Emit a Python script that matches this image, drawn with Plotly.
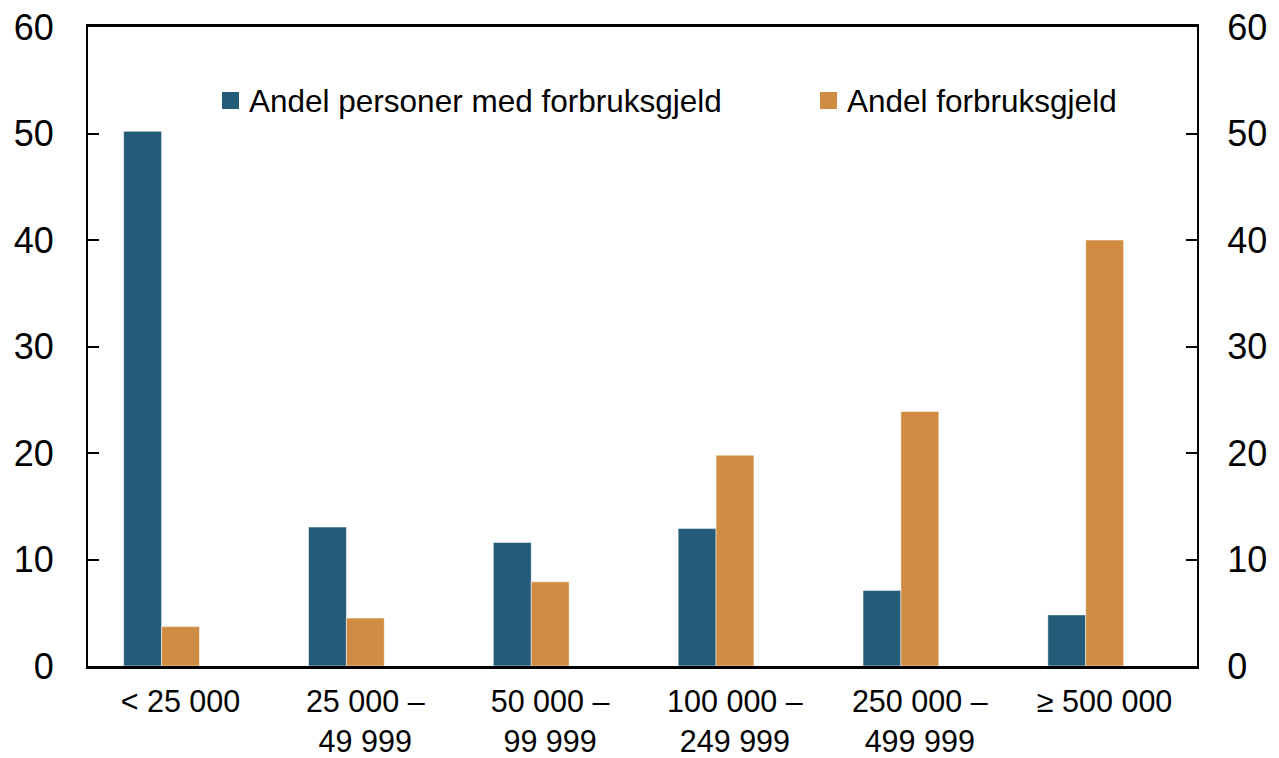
import plotly.graph_objects as go

categories = ["< 25 000", "25 000 –<br>49 999", "50 000 –<br>99 999",
              "100 000 –<br>249 999", "250 000 –<br>499 999", "≥ 500 000"]
series_names = ["Andel personer med forbruksgjeld", "Andel forbruksgjeld"]
andel_personer = [50.2, 13.05, 11.6, 12.9, 7.1, 4.8]
andel_gjeld = [3.7, 4.5, 7.9, 19.8, 23.9, 40.0]
y_ticks = [0, 10, 20, 30, 40, 50, 60]

BLUE = "#235b79"
ORANGE = "#cf8c42"
FONT = "Arial, Liberation Sans, sans-serif"

W, H = 1279, 758
L, R, T, B = 88, 82, 27, 92
pw, ph = W - L - R, H - T - B

fig = go.Figure()
bar_w = 0.205
fig.add_trace(go.Bar(x=categories, y=andel_personer, name=series_names[0],
                     marker=dict(color=BLUE, line=dict(color="rgba(255,255,255,0.5)", width=1)),
                     width=bar_w, offset=-0.307, showlegend=False))
fig.add_trace(go.Bar(x=categories, y=andel_gjeld, name=series_names[1],
                     marker=dict(color=ORANGE, line=dict(color="rgba(255,255,255,0.5)", width=1)),
                     width=bar_w, offset=-0.102, showlegend=False))
# invisible trace to anchor right axis
fig.add_trace(go.Scatter(x=categories, y=[None]*len(categories), yaxis="y2",
                         showlegend=False, hoverinfo="skip"))

axis_common = dict(range=[0, 60], tickvals=y_ticks, ticks="inside", ticklen=11,
                   tickwidth=1.5, tickcolor="black", showgrid=False, zeroline=False,
                   showline=True, linecolor="black", linewidth=2, automargin=False,
                   tickfont=dict(family=FONT, size=36, color="black"))

fig.update_layout(
    width=W, height=H,
    margin=dict(l=L, r=R, t=T, b=B, pad=0, autoexpand=False),
    paper_bgcolor="white", plot_bgcolor="white",
    font=dict(family=FONT, color="black"),
    barmode="group",
    xaxis=dict(showgrid=False, ticks="", showline=True, linecolor="black", linewidth=2.5,
               mirror=True, automargin=False, tickfont=dict(family=FONT, size=30.5, color="black"),
               ticklabelstandoff=7),
    yaxis=dict(side="left", ticklabelstandoff=25, **axis_common),
    yaxis2=dict(side="right", overlaying="y", ticklabelstandoff=21, **axis_common),
)

# Legend drawn as squares + text inside the plot
legend_items = [(222, 247, BLUE, series_names[0]), (820, 845, ORANGE, series_names[1])]
for sx, tx, col, name in legend_items:
    fig.add_shape(type="rect", xref="paper", yref="paper",
                  x0=(sx - L) / pw, x1=(sx + 17 - L) / pw,
                  y0=(H - B - 109) / ph, y1=(H - B - 92) / ph,
                  fillcolor=col, line=dict(width=0))
    fig.add_annotation(xref="paper", yref="paper", x=(tx - L) / pw, y=(H - B - 101) / ph,
                       text=name, showarrow=False, xanchor="left", yanchor="middle",
                       font=dict(family=FONT, size=31.5, color="black"))

fig.write_html("out.html", config={"displayModeBar": False},
               post_script="document.body.style.margin='0';document.body.style.overflow='hidden';")
